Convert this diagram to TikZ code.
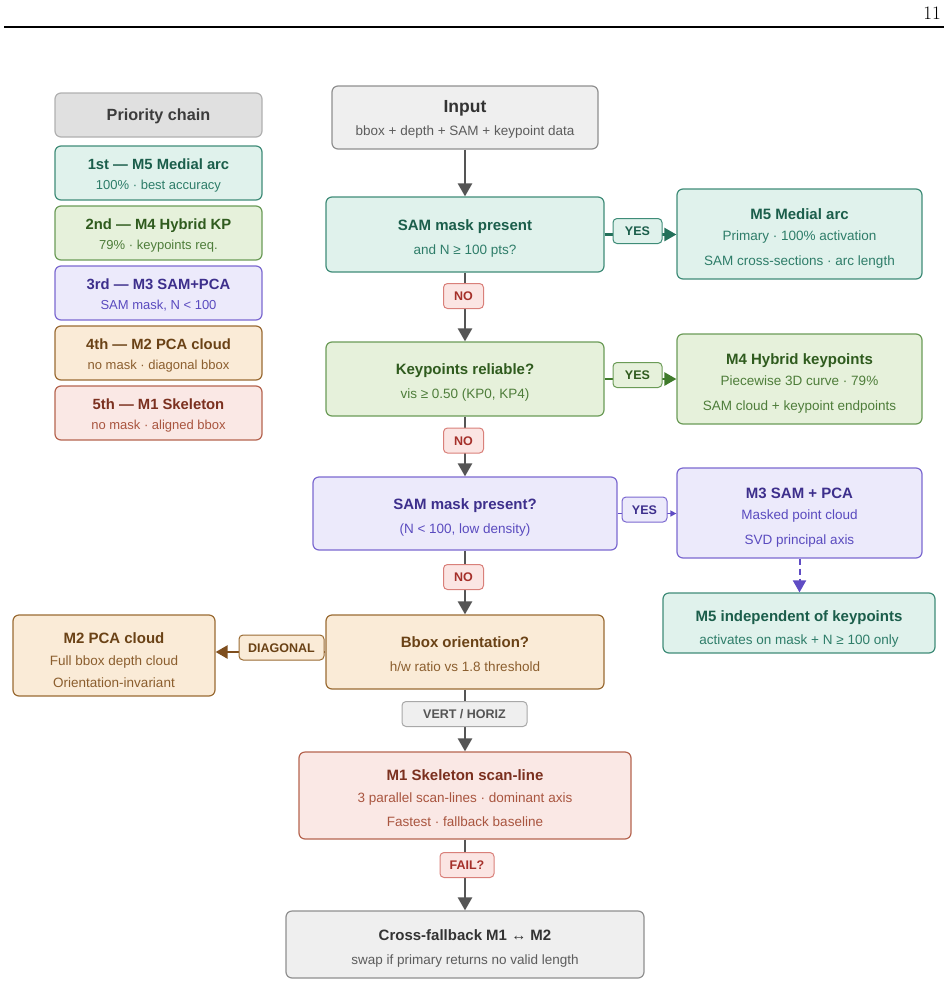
\documentclass[tikz,border=0pt]{standalone}
\usepackage{fontspec}
\setsansfont{Liberation Sans}
\usetikzlibrary{arrows.meta}
% colours
\definecolor{tealF}{HTML}{E0F2EC}\definecolor{tealD}{HTML}{3F8C78}\definecolor{tealT}{HTML}{1B5E4B}\definecolor{tealS}{HTML}{2E7D69}\definecolor{tealA}{HTML}{24705A}
\definecolor{greenF}{HTML}{E6F1DB}\definecolor{greenD}{HTML}{6B9B57}\definecolor{greenT}{HTML}{2F5B1E}\definecolor{greenS}{HTML}{4E7D3A}\definecolor{greenA}{HTML}{3F7A2B}
\definecolor{purF}{HTML}{ECEAFB}\definecolor{purD}{HTML}{7B68D0}\definecolor{purT}{HTML}{3D2F8C}\definecolor{purS}{HTML}{5A4BBF}\definecolor{purA}{HTML}{5F4CC4}
\definecolor{oraF}{HTML}{FAEBD7}\definecolor{oraD}{HTML}{9A6B33}\definecolor{oraT}{HTML}{6A4216}\definecolor{oraS}{HTML}{8B5E2E}\definecolor{oraA}{HTML}{7E4E1E}
\definecolor{redF}{HTML}{FAE8E5}\definecolor{redD}{HTML}{B5644F}\definecolor{redT}{HTML}{7B301F}\definecolor{redS}{HTML}{A9553F}
\definecolor{grayF}{HTML}{EFEFEF}\definecolor{grayD}{HTML}{8F8F8F}\definecolor{grayT}{HTML}{333333}\definecolor{grayS}{HTML}{5C5C5C}
\definecolor{hdrF}{HTML}{E0E0E0}\definecolor{hdrD}{HTML}{B0B0B0}\definecolor{hdrT}{HTML}{3C3C3C}
\definecolor{noF}{HTML}{FBE5E3}\definecolor{noD}{HTML}{D9807A}\definecolor{noT}{HTML}{A5302A}
\definecolor{vhF}{HTML}{EFEFEF}\definecolor{vhD}{HTML}{A8A8A8}\definecolor{vhT}{HTML}{555555}
\definecolor{arrG}{HTML}{555555}
\tikzset{
  bx/.style={rounded corners=6pt, line width=1.2pt, inner sep=0pt, draw=#1D, fill=#1F},
  ttl/.style={anchor=base, inner sep=0pt, text=#1T, font=\sffamily\bfseries\fontsize{15}{17}\selectfont},
  sbt/.style={anchor=base, inner sep=0pt, text=#1S, font=\sffamily\fontsize{13.5}{16}\selectfont},
  ptl/.style={anchor=base, inner sep=0pt, text=#1T, font=\sffamily\bfseries\fontsize{14.8}{17}\selectfont},
  pst/.style={anchor=base, inner sep=0pt, text=#1S, font=\sffamily\fontsize{13}{15}\selectfont},
  tag/.style={rounded corners=4pt, line width=1pt, inner sep=0pt, draw=#1D, fill=#1F, text=#1T,
    minimum height=25pt, text height=9pt, text depth=0pt, font=\sffamily\bfseries\fontsize{12.5}{14}\selectfont},
  garr/.style={draw=arrG, line width=2.5pt, -{Triangle[length=13pt,width=14pt]}},
  carr/.style={draw=#1, line width=2.4pt, -{Triangle[length=12pt,width=13pt]}},
}
\newcommand\tbox[8]{%
  \node[bx=#6, minimum width=#4, minimum height=#5] (#1) at (#2,#3) {};
  \node[ttl=#6] (#1t) at (#2,#3-4.5) {#7};
  \node[sbt=#6] (#1s) at (#2,#3+19.5) {#8};}
\newcommand\thbox[9]{%
  \node[bx=#6, minimum width=#4, minimum height=#5] (#1) at (#2,#3) {};
  \node[ttl=#6] (#1t) at (#2,#3-15) {#7};
  \node[sbt=#6] (#1s) at (#2,#3+6.5) {#8};
  \node[sbt=#6] (#1u) at (#2,#3+31) {#9};}
\newcommand\pbox[5]{%
  \node[bx=#3, minimum width=207, minimum height=54] (#1) at (158.5,#2) {};
  \node[ptl=#3] (#1t) at (158.5,#2-3.5) {#4};
  \node[pst=#3] (#1s) at (158.5,#2+16) {#5};}
\begin{document}
\begin{tikzpicture}[x=1pt,y=-1pt]
\useasboundingbox (0,0) rectangle (948,986);
% header
\node[anchor=base east, inner sep=0pt] (pg) at (941,19.5) {\rmfamily\fontsize{19}{21}\selectfont 11};
\draw[line width=1.4pt] (4,27) -- (944,27);

% priority chain
\node[bx=hdr, minimum width=207, minimum height=44] (prio) at (158.5,115) {};
\node[anchor=base, inner sep=0pt, text=hdrT, font=\sffamily\bfseries\fontsize{16.2}{18}\selectfont] (priot) at (158.5,120.5) {Priority chain};
\pbox{p1}{173}{teal}{1st — M5 Medial arc}{100\% · best accuracy}
\pbox{p2}{233}{green}{2nd — M4 Hybrid KP}{79\% · keypoints req.}
\pbox{p3}{293}{pur}{3rd — M3 SAM+PCA}{SAM mask, N < 100}
\pbox{p4}{353}{ora}{4th — M2 PCA cloud}{no mask · diagonal bbox}
\pbox{p5}{413}{red}{5th — M1 Skeleton}{no mask · aligned bbox}

% input
\node[bx=gray, minimum width=266, minimum height=63] (inp) at (465,117.5) {};
\node[anchor=base, inner sep=0pt, text=grayT, font=\sffamily\bfseries\fontsize{17.5}{20}\selectfont] (inpt) at (465,112.5) {Input};
\node[sbt=gray] (inps) at (465,135.5) {bbox + depth + SAM + keypoint data};

% decisions
\tbox{d1}{465}{234.5}{278}{75}{teal}{SAM mask present}{and N ≥ 100 pts?}
\tbox{d2}{465}{379}{278}{74}{green}{Keypoints reliable?}{vis ≥ 0.50 (KP0, KP4)}
\tbox{d3}{465}{513.5}{304}{73}{pur}{SAM mask present?}{(N < 100, low density)}
\tbox{d4}{465}{652}{278}{74}{ora}{Bbox orientation?}{h/w ratio vs 1.8 threshold}

% methods
\thbox{m5}{799.5}{234}{245}{90}{teal}{M5 Medial arc}{Primary · 100\% activation}{SAM cross-sections · arc length}
\thbox{m4}{799.5}{379}{245}{90}{green}{M4 Hybrid keypoints}{Piecewise 3D curve · 79\%}{SAM cloud + keypoint endpoints}
\thbox{m3}{799.5}{513}{245}{90}{pur}{M3 SAM + PCA}{Masked point cloud}{SVD principal axis}
\node[bx=teal, minimum width=272, minimum height=60] (m5i) at (799,623) {};
\node[ttl=teal] (m5it) at (799,621) {M5 independent of keypoints};
\node[sbt=teal] (m5is) at (799,644) {activates on mask + N ≥ 100 only};
\node[bx=ora, minimum width=202, minimum height=81] (m2) at (114,655.5) {};
\node[ttl=ora] (m2t) at (114,643) {M2 PCA cloud};
\node[sbt=ora] (m2s) at (114,665.5) {Full bbox depth cloud};
\node[sbt=ora] (m2u) at (114,687.5) {Orientation-invariant};
\thbox{m1}{465}{795.5}{332}{87}{red}{M1 Skeleton scan-line}{3 parallel scan-lines · dominant axis}{Fastest · fallback baseline}
\tbox{cf}{465}{944.5}{358}{67}{gray}{Cross-fallback M1 ↔ M2}{swap if primary returns no valid length}

% vertical connectors
\draw[garr] (inp.south) -- (d1.north);
\draw[garr] (d1.south) -- (d2.north);
\draw[garr] (d2.south) -- (d3.north);
\draw[garr] (d3.south) -- (d4.north);
\draw[garr] (d4.south) -- (m1.north);
\draw[garr] (m1.south) -- (cf.north);
\node[tag=no, minimum width=40] (no1) at (463.5,296) {NO};
\node[tag=no, minimum width=40] (no2) at (463.5,440.5) {NO};
\node[tag=no, minimum width=40] (no3) at (463.5,577) {NO};
\node[tag=vh, minimum width=125] (vh) at (464.5,714) {VERT / HORIZ};
\node[tag=no, minimum width=54] (fail) at (467,865) {FAIL?};

% horizontal connectors
\draw[carr=tealA] (d1.east) -- (d1.east -| m5.west);
\node[tag=teal, minimum width=49] (y1) at (637.5,231) {YES};
\draw[carr=greenA] (d2.east) -- (d2.east -| m4.west);
\node[tag=green, minimum width=49] (y2) at (637.5,375) {YES};
\draw[draw=purA, line width=1.4pt, -{Triangle[length=6pt,width=6pt]}] (d3.east) -- (d3.east -| m3.west);
\node[tag=pur, minimum width=45] (y3) at (644.5,509.5) {YES};
\draw[carr=oraA] (d4.west) -- (d4.west -| m2.east);
\node[tag=ora, minimum width=85] (dg) at (281.5,647.5) {DIAGONAL};
\draw[draw=purA, line width=2pt, dash pattern=on 6pt off 4pt, -{Triangle[length=12pt,width=13pt]}] (m3.south) -- (m3.south |- m5i.north);
\end{tikzpicture}
\end{document}
